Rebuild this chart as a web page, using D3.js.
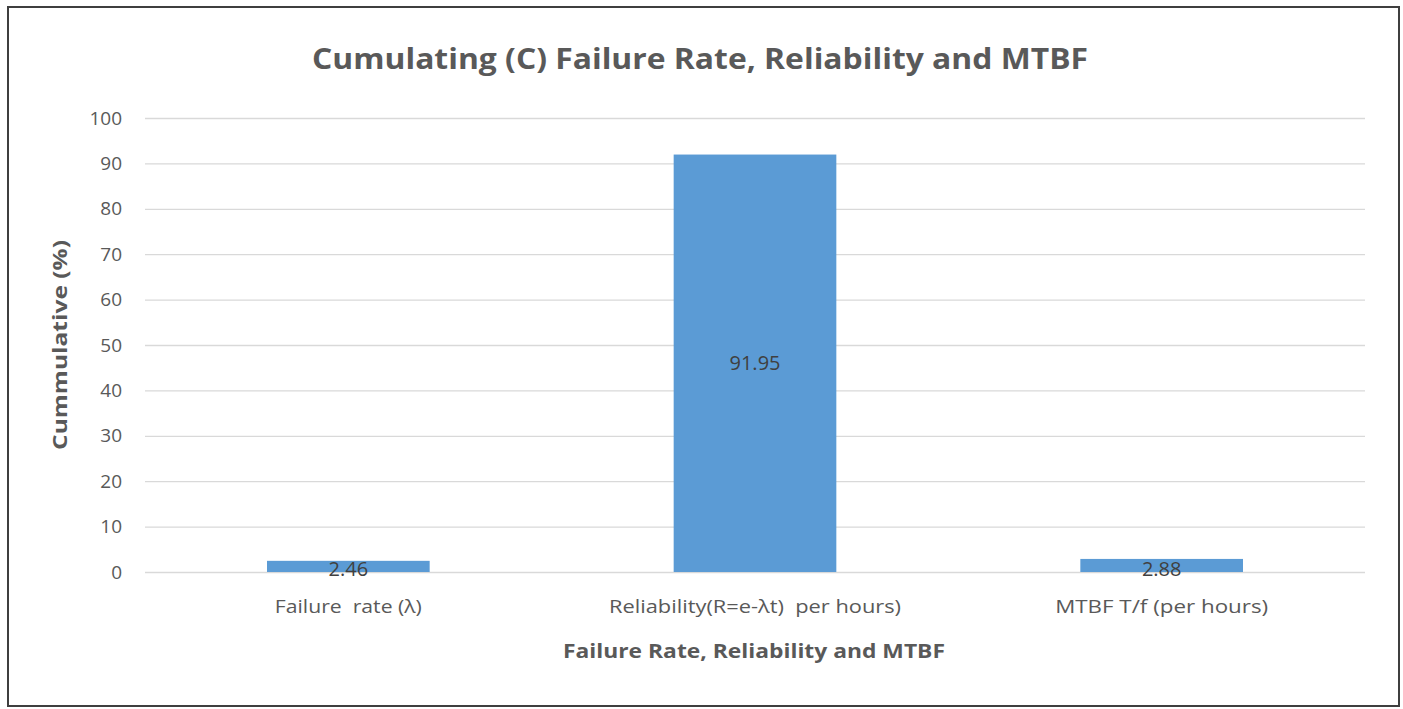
<!DOCTYPE html>
<html>
<head>
<meta charset="utf-8">
<script src="https://cdn.jsdelivr.net/npm/d3@7"></script>
<style>
  body { margin: 0; background: #fff; }
  text { font-family: "Open Sans", "Noto Sans", sans-serif; }
</style>
</head>
<body>
<div id="chart"></div>
<script>
// dados do gráfico
const categories = ["Failure  rate (λ)", "Reliability(R=e-λt)  per hours)", "MTBF T/f (per hours)"];
const values = [2.46, 91.95, 2.88];
const yTicks = [0, 10, 20, 30, 40, 50, 60, 70, 80, 90, 100];
const labelWidths = [147, 292, 213];

const W = 1403, H = 709;
const margin = {top: 118, right: 38, bottom: 137, left: 145};
const width = W - margin.left - margin.right;
const height = H - margin.top - margin.bottom;

const svg = d3.select("#chart").append("svg")
    .attr("width", W)
    .attr("height", H);

// moldura externa
svg.append("rect")
    .attr("x", 8).attr("y", 7)
    .attr("width", 1391).attr("height", 699)
    .attr("fill", "none")
    .attr("stroke", "#3f3f3f")
    .attr("stroke-width", 2);

const g = svg.append("g")
    .attr("transform", `translate(${margin.left},${margin.top})`);

const x = d3.scaleBand()
    .domain(categories)
    .range([0, width])
    .paddingInner(0.6)
    .paddingOuter(0.3);

const y = d3.scaleLinear()
    .domain([0, 100])
    .range([height, 0]);

// linhas de grade + eixo y
const yAxis = d3.axisLeft(y)
    .tickValues(yTicks)
    .tickSize(-width)
    .tickPadding(23);

g.append("g")
    .call(yAxis)
    .call(s => s.select(".domain").remove())
    .call(s => s.selectAll(".tick line").attr("stroke", "#d9d9d9").attr("stroke-width", 1.3))
    .call(s => s.selectAll(".tick text")
        .attr("fill", "#595959")
        .style("font-size", "19px"));

// barras
g.selectAll(".bar")
    .data(values)
    .enter()
    .append("rect")
    .attr("class", "bar")
    .attr("x", (d, i) => x(categories[i]))
    .attr("y", d => y(d))
    .attr("width", x.bandwidth())
    .attr("height", d => height - y(d))
    .attr("fill", "#5b9bd5");

// rótulos de dados
g.selectAll(".lbl")
    .data(values)
    .enter()
    .append("text")
    .attr("class", "lbl")
    .attr("x", (d, i) => x(categories[i]) + x.bandwidth() / 2)
    .attr("y", d => d > 10 ? (y(d) + height) / 2 : height - 3)
    .attr("dy", "0.35em")
    .attr("text-anchor", "middle")
    .attr("fill", "#404040")
    .style("font-size", "20px")
    .text(d => d3.format(".2f")(d));

// eixo x
const xAxis = d3.axisBottom(x).tickSize(0).tickPadding(28);
g.append("g")
    .attr("transform", `translate(0,${height})`)
    .call(xAxis)
    .call(s => s.select(".domain").remove())
    .call(s => s.selectAll(".tick text")
        .attr("fill", "#595959")
        .style("font-size", "18px")
        .style("white-space", "pre")
        .attr("textLength", (d, i) => labelWidths[i])
        .attr("lengthAdjust", "spacingAndGlyphs"));

// título
svg.append("text")
    .attr("x", 700)
    .attr("y", 69)
    .attr("text-anchor", "middle")
    .attr("fill", "#595959")
    .style("font-size", "29px")
    .style("font-weight", "bold")
    .attr("textLength", 776)
    .attr("lengthAdjust", "spacingAndGlyphs")
    .text("Cumulating (C) Failure Rate, Reliability and MTBF");

// títulos dos eixos
svg.append("text")
    .attr("x", 754)
    .attr("y", 658)
    .attr("text-anchor", "middle")
    .attr("fill", "#595959")
    .style("font-size", "19px")
    .style("font-weight", "bold")
    .attr("textLength", 382)
    .attr("lengthAdjust", "spacingAndGlyphs")
    .text("Failure Rate, Reliability and MTBF");

svg.append("text")
    .attr("transform", "translate(67,345) rotate(-90)")
    .attr("text-anchor", "middle")
    .attr("fill", "#595959")
    .style("font-size", "19px")
    .style("font-weight", "bold")
    .attr("textLength", 210)
    .attr("lengthAdjust", "spacingAndGlyphs")
    .text("Cummulative (%)");
</script>
</body>
</html>
